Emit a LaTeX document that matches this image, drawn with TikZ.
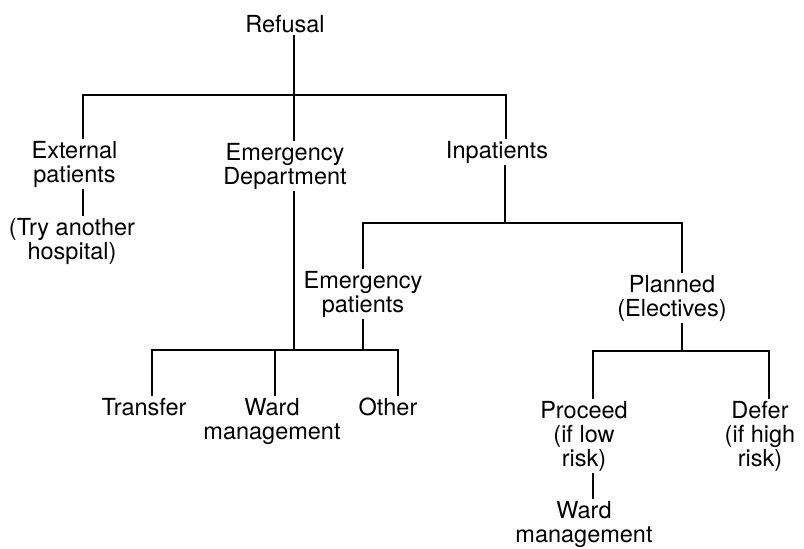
\documentclass[tikz,border=0pt]{standalone}
\usepackage{fontspec}
\setmainfont{TeX Gyre Heros}
\usetikzlibrary{positioning,calc}

\begin{document}
\begin{tikzpicture}[x=1pt, y=-1pt,
    box/.style={align=center, anchor=north, inner sep=0pt, outer sep=3pt,
        font=\fontsize{23.5}{24}\selectfont},
    link/.style={line width=2pt, line cap=rect}]
    \useasboundingbox (0,0) rectangle (804,549);

    % Top level
    \node[box] (refusal) at (285,12) {Refusal};
    \node[box] (ext) at (74.5,138) {External\\patients};
    \node[box] (try) at (72,215) {(Try another\\hospital)};
    \node[box] (ed) at (285,140) {Emergency\\Department};
    \node[box] (inp) at (497,138) {Inpatients};

    % Inpatients split
    \node[box] (emp) at (363,268) {Emergency\\patients};
    \node[box] (plan) at (672,272) {Planned\\(Electives)};

    % Bottom row
    \node[box] (transfer) at (144,395) {Transfer};
    \node[box] (ward) at (272,395) {Ward\\management};
    \node[box] (other) at (388,395) {Other};
    \node[box] (proceed) at (584,398) {Proceed\\(if low\\risk)};
    \node[box] (defer) at (760,398) {Defer\\(if high\\risk)};
    \node[box] (wardb) at (584,498) {Ward\\management};

    % Joints
    \coordinate (topbar) at (293.5,94.5);
    \coordinate (extX) at (82.7,94.5);
    \coordinate (inpX) at (506,94.5);
    \coordinate (inpJoin) at (505,223);
    \coordinate (empX) at (363,223);
    \coordinate (planX) at (681.5,223);
    \coordinate (lowL) at (151.7,349.5);
    \coordinate (lowR) at (398,349.5);
    \coordinate (wardX) at (275,349.5);
    \coordinate (edJoin) at (293.5,349.5);
    \coordinate (planJoin) at (681.5,350.5);
    \coordinate (procX) at (592.5,350.5);
    \coordinate (defX) at (769,350.5);

    % Connectors
    \draw[link] (refusal.south -| topbar) -- (topbar);
    \draw[link] (extX |- ext.north) -- (extX) -- (inpX) -- (inpX |- inp.north);
    \draw[link] (topbar) -- (topbar |- ed.north);
    \draw[link] (extX |- ext.south) -- (extX |- try.north);
    \draw[link] (ed.south -| edJoin) -- (edJoin);
    \draw[link] (inp.south -| inpJoin) -- (inpJoin);
    \draw[link] (empX |- emp.north) -- (empX) -- (planX) -- (planX |- plan.north);
    \draw[link] (emp.south -| empX) -- (empX |- lowL);
    \draw[link] (lowL |- transfer.north) -- (lowL) -- (lowR) -- (lowR |- other.north);
    \draw[link] (wardX) -- (wardX |- ward.north);
    \draw[link] (plan.south -| planJoin) -- (planJoin);
    \draw[link] (procX |- proceed.north) -- (procX) -- (defX) -- (defX |- defer.north);
    \draw[link] (procX |- proceed.south) -- (procX |- wardb.north);
\end{tikzpicture}
\end{document}
